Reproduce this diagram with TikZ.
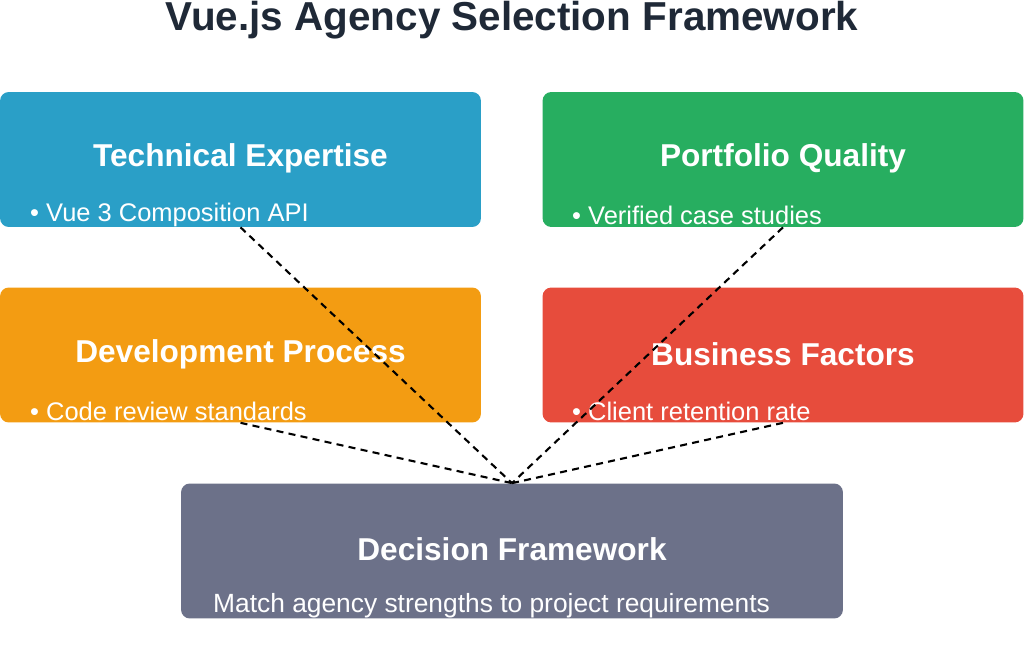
\documentclass[tikz,border=0pt]{standalone}
\usepackage{fontspec}
\setmainfont{Liberation Sans}
\usetikzlibrary{positioning}
\definecolor{techblue}{HTML}{2A9FC7}
\definecolor{portgreen}{HTML}{27AE60}
\definecolor{devorange}{HTML}{F39C12}
\definecolor{busred}{HTML}{E74C3C}
\definecolor{decgray}{HTML}{6C7189}
\definecolor{titlenavy}{HTML}{1F2937}
\tikzset{
  card/.style={draw=none,rounded corners=5pt,minimum width=9.62cm,minimum height=2.7cm,inner sep=0pt},
  cardtitle/.style={text=white,font=\bfseries\fontsize{18}{20}\selectfont},
  bullet/.style={text=white,anchor=west,font=\fontsize{14.5}{16}\selectfont},
  link/.style={dashed,line width=1.2pt,dash pattern=on 4pt off 3pt}
}
\begin{document}
\begin{tikzpicture}[x=0.02cm,y=-0.02cm]
\useasboundingbox (0,0) rectangle (1024,661);
\node at (512,20) (title) [text=titlenavy,font=\bfseries\fontsize{23}{26}\selectfont]{Vue.js Agency Selection Framework};
% the four criteria
\node at (240.5,159.5) (te) [card,fill=techblue]{};
\node at (783,159.5) (pq) [card,fill=portgreen]{};
\node at (240.5,355) (dp) [card,fill=devorange]{};
\node at (783,355) (bf) [card,fill=busred]{};
\node at (512,551) (df) [card,fill=decgray,minimum width=13.24cm]{};
\node at (240.5,158) (teT) [cardtitle]{Technical Expertise};
\node at (783,158) (pqT) [cardtitle]{Portfolio Quality};
\node at (240.5,354) (dpT) [cardtitle]{Development Process};
\node at (783,354) (bfT) [cardtitle]{Business Factors};
\node at (512,549) (dfT) [cardtitle]{Decision Framework};
\node at (24,215) (teB) [bullet]{• Vue 3 Composition API};
\node at (566,215) (pqB) [bullet]{• Verified case studies};
\node at (24,411) (dpB) [bullet]{• Code review standards};
\node at (566,411) (bfB) [bullet]{• Client retention rate};
\node at (207,606) (dfB) [bullet,font=\fontsize{15}{17}\selectfont]{Match agency strengths to project requirements};
% connectors
\foreach \n in {te,pq,dp,bf}
  \draw [link] (\n.south) -- (df.north);
\end{tikzpicture}
\end{document}
